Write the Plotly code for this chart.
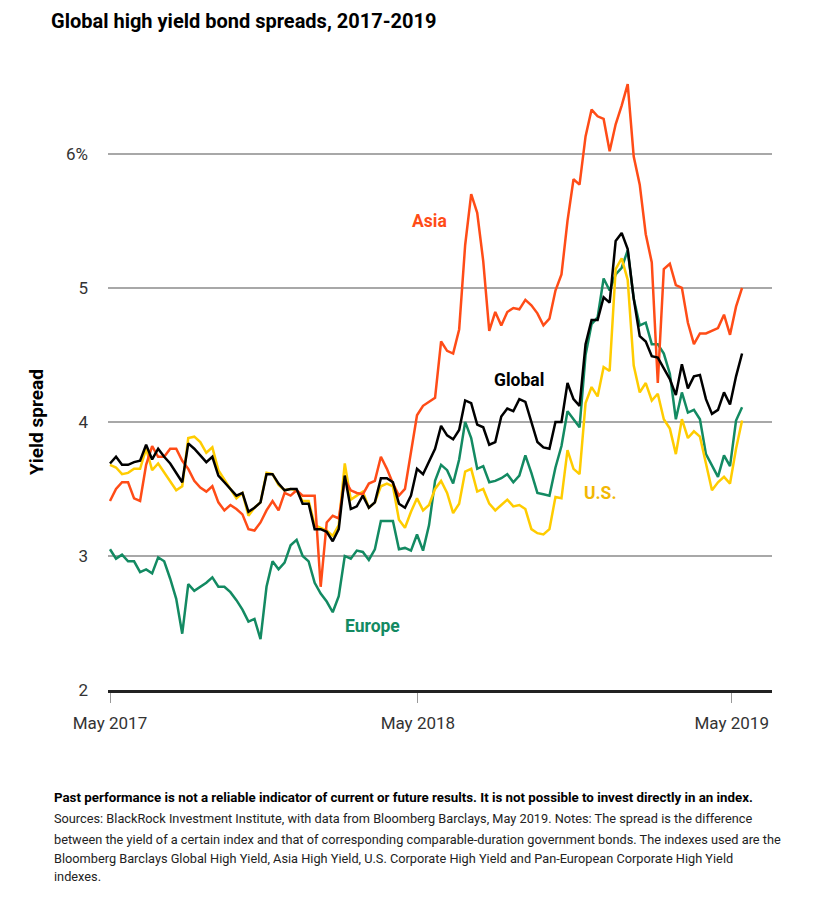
import pandas as pd
import plotly.graph_objects as go

# ---------------- data (weekly observations, % yield spread) ----------------
start_date = "2017-05-01"
n_weeks = 106

global_hy = [3.69, 3.74, 3.68, 3.68, 3.70, 3.71, 3.83, 3.72, 3.80, 3.74,
             3.69, 3.62, 3.55, 3.84, 3.80, 3.75, 3.70, 3.74, 3.60, 3.55,
             3.50, 3.45, 3.47, 3.33, 3.36, 3.40, 3.61, 3.61, 3.54, 3.49,
             3.50, 3.50, 3.39, 3.39, 3.20, 3.20, 3.18, 3.11, 3.20, 3.60,
             3.35, 3.37, 3.45, 3.36, 3.40, 3.58, 3.58, 3.55, 3.39, 3.36,
             3.45, 3.65, 3.61, 3.70, 3.80, 3.97, 3.90, 3.87, 3.94, 4.16,
             4.14, 3.98, 3.96, 3.83, 3.85, 4.04, 4.10, 4.08, 4.17, 4.15,
             4.00, 3.85, 3.81, 3.80, 4.00, 4.00, 4.29, 4.17, 4.12, 4.58,
             4.76, 4.76, 4.93, 4.89, 5.35, 5.41, 5.29, 4.92, 4.64, 4.60,
             4.49, 4.48, 4.40, 4.32, 4.20, 4.43, 4.25, 4.34, 4.35, 4.17,
             4.06, 4.09, 4.22, 4.13, 4.34, 4.51]

asia_hy = [3.41, 3.50, 3.55, 3.55, 3.43, 3.41, 3.68, 3.82, 3.74, 3.74,
           3.80, 3.80, 3.71, 3.65, 3.56, 3.51, 3.48, 3.52, 3.40, 3.34,
           3.38, 3.35, 3.31, 3.20, 3.19, 3.25, 3.34, 3.41, 3.34, 3.47,
           3.45, 3.49, 3.45, 3.45, 3.45, 2.77, 3.25, 3.30, 3.28, 3.57,
           3.49, 3.47, 3.46, 3.54, 3.56, 3.74, 3.65, 3.54, 3.45, 3.50,
           3.78, 4.05, 4.12, 4.15, 4.18, 4.60, 4.53, 4.51, 4.69, 5.32,
           5.70, 5.56, 5.20, 4.68, 4.82, 4.72, 4.82, 4.85, 4.84, 4.91,
           4.87, 4.81, 4.72, 4.77, 4.98, 5.10, 5.50, 5.81, 5.77, 6.13,
           6.33, 6.28, 6.26, 6.02, 6.22, 6.36, 6.52, 5.98, 5.77, 5.40,
           5.19, 4.29, 5.14, 5.18, 5.02, 5.00, 4.74, 4.58, 4.66, 4.66,
           4.68, 4.70, 4.80, 4.65, 4.86, 5.00]

us_hy = [3.68, 3.66, 3.61, 3.62, 3.65, 3.65, 3.80, 3.64, 3.69, 3.62,
         3.55, 3.49, 3.52, 3.88, 3.89, 3.85, 3.77, 3.81, 3.64, 3.57,
         3.51, 3.43, 3.47, 3.30, 3.36, 3.40, 3.62, 3.61, 3.53, 3.49,
         3.50, 3.49, 3.41, 3.41, 3.23, 3.21, 3.19, 3.15, 3.23, 3.69,
         3.42, 3.45, 3.48, 3.36, 3.40, 3.52, 3.54, 3.52, 3.27, 3.21,
         3.33, 3.43, 3.34, 3.38, 3.50, 3.56, 3.47, 3.32, 3.39, 3.63,
         3.65, 3.48, 3.50, 3.39, 3.34, 3.38, 3.42, 3.37, 3.38, 3.35,
         3.20, 3.17, 3.16, 3.20, 3.44, 3.43, 3.79, 3.65, 3.61, 4.14,
         4.26, 4.19, 4.41, 4.38, 5.14, 5.22, 5.06, 4.42, 4.22, 4.29,
         4.16, 4.21, 4.02, 3.95, 3.76, 4.02, 3.88, 3.93, 3.89, 3.69,
         3.49, 3.55, 3.59, 3.54, 3.80, 4.01]

europe_hy = [3.05, 2.98, 3.01, 2.96, 2.96, 2.88, 2.90, 2.87, 2.99, 2.96,
             2.83, 2.68, 2.42, 2.79, 2.74, 2.77, 2.80, 2.84, 2.77, 2.77,
             2.73, 2.67, 2.60, 2.51, 2.53, 2.38, 2.77, 2.96, 2.90, 2.95,
             3.08, 3.12, 3.00, 2.96, 2.80, 2.72, 2.66, 2.58, 2.70, 3.00,
             2.98, 3.04, 3.03, 2.97, 3.05, 3.26, 3.26, 3.26, 3.05, 3.06,
             3.04, 3.16, 3.04, 3.23, 3.56, 3.68, 3.64, 3.54, 3.72, 4.00,
             3.88, 3.65, 3.67, 3.55, 3.56, 3.58, 3.61, 3.55, 3.60, 3.75,
             3.62, 3.47, 3.46, 3.45, 3.66, 3.82, 4.08, 4.02, 3.96, 4.50,
             4.73, 4.78, 5.07, 4.98, 5.10, 5.15, 5.28, 4.92, 4.72, 4.74,
             4.58, 4.58, 4.51, 4.36, 4.02, 4.22, 4.07, 4.09, 4.02, 3.76,
             3.68, 3.59, 3.75, 3.67, 4.01, 4.11]

tick_dates = ["2017-05-01", "2018-04-24", "2019-04-24"]
tick_labels = ["May 2017", "May 2018", "May 2019"]
y_ticks = [2, 3, 4, 5, 6]
y_tick_labels = ["2", "3", "4", "5", "6%"]

# ---------------- styling ----------------
FONT = "Roboto"
C_ASIA = "#ff4c17"
C_GLOBAL = "#000000"
C_US = "#ffcc00"
C_US_LABEL = "#f2b705"
C_EUROPE = "#138a62"

dates = pd.date_range(start_date, periods=n_weeks, freq="7D")
t0 = pd.Timestamp(start_date)

# page body has an 8px margin; plot area spans reference px 108..772 x 60..690
OFF = 8
W, H = 833 - OFF, 905 - OFF
ML, MR, MT, MB = 108 - OFF, 61, 60 - OFF, 215
PW, PH = W - ML - MR, H - MT - MB


def px_x(x):
    return (x - 108) / PW


def px_y(y):
    return (690 - y) / PH


fig = go.Figure()
series = [
    ("Europe", europe_hy, C_EUROPE),
    ("U.S.", us_hy, C_US),
    ("Asia", asia_hy, C_ASIA),
    ("Global", global_hy, C_GLOBAL),
]
for name, vals, col in series:
    fig.add_trace(go.Scatter(x=dates, y=vals, mode="lines", name=name,
                             line=dict(color=col, width=2.5),
                             showlegend=False, hoverinfo="skip"))

# series labels (data coordinates)
labels = [
    ("Asia", 371, 5.50, C_ASIA),
    ("Global", 475.6, 4.31, C_GLOBAL),
    ("U.S.", 569.8, 3.47, C_US_LABEL),
    ("Europe", 304.7, 2.48, C_EUROPE),
]
annotations = []
for txt, d, v, col in labels:
    annotations.append(dict(x=t0 + pd.Timedelta(days=d), y=v, xref="x", yref="y",
                            text=f"<b>{txt}</b>", showarrow=False,
                            font=dict(family=FONT, size=17.5, color=col)))

# title
annotations.append(dict(x=px_x(50), y=px_y(21), xref="paper", yref="paper",
                        xanchor="left", yanchor="middle", showarrow=False,
                        borderpad=0,
                        text="<b>Global high yield bond spreads, 2017-2019</b>",
                        font=dict(family=FONT, size=20, color="#000000")))
# y-axis title
annotations.append(dict(x=px_x(36), y=px_y(422), xref="paper", yref="paper",
                        xanchor="center", yanchor="middle", showarrow=False,
                        textangle=-90, text="<b>Yield spread</b>",
                        font=dict(family=FONT, size=19, color="#000000")))

# footnotes
notes = [
    ("<b>Past performance is not a reliable indicator of current or future results. "
     "It is not possible to invest directly in an index.</b>", 797, 13.3, "#000000"),
    ("Sources: BlackRock Investment Institute, with data from Bloomberg Barclays, May 2019. "
     "Notes: The spread is the difference", 818, 12.75, "#222222"),
    ("between the yield of a certain index and that of corresponding comparable-duration "
     "government bonds. The indexes used are the", 839, 12.75, "#222222"),
    ("Bloomberg Barclays Global High Yield, Asia High Yield, U.S. Corporate High Yield "
     "and Pan-European Corporate High Yield", 858, 12.75, "#222222"),
    ("indexes.", 876, 12.75, "#222222"),
]
for txt, ypx, fs, col in notes:
    annotations.append(dict(x=px_x(52), y=px_y(ypx), xref="paper", yref="paper",
                            xanchor="left", yanchor="middle", showarrow=False,
                            text=txt, align="left",
                            font=dict(family=FONT, size=fs, color=col)))

fig.update_layout(
    width=W, height=H, autosize=False,
    margin=dict(l=ML, r=MR, t=MT, b=MB),
    paper_bgcolor="white", plot_bgcolor="white",
    font=dict(family=FONT, size=15, color="#333333"),
    annotations=annotations,
    xaxis=dict(
        type="date",
        range=[t0 - pd.Timedelta(days=2.33), t0 + pd.Timedelta(days=769.8)],
        tickvals=pd.to_datetime(tick_dates), ticktext=tick_labels,
        ticks="outside", ticklen=10, tickwidth=1.2, tickcolor="#999999",
        showgrid=False, zeroline=False,
        showline=True, linecolor="#222222", linewidth=2.5,
        tickfont=dict(family=FONT, size=17, color="#333333"),
        ticklabelstandoff=6,
    ),
    yaxis=dict(
        range=[2, 6.7],
        tickvals=y_ticks, ticktext=y_tick_labels,
        showgrid=True, gridcolor="#a8a8a8", gridwidth=1.5,
        zeroline=False, showline=False, ticks="",
        tickfont=dict(family=FONT, size=17, color="#333333"),
        ticklabelstandoff=19,
    ),
)

fig.write_html("out.html")
